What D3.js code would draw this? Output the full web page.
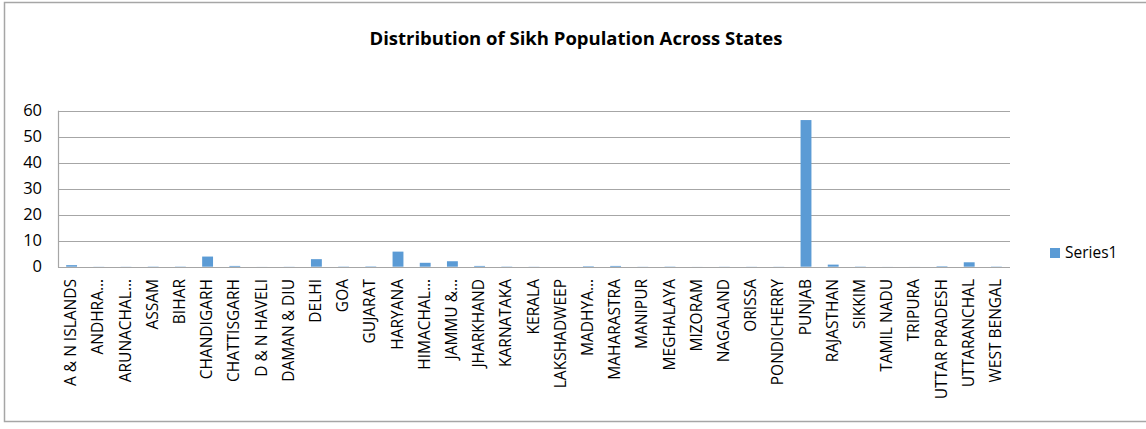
<!DOCTYPE html>
<html>
<head>
<meta charset="utf-8">
<script src="https://cdn.jsdelivr.net/npm/d3@7"></script>
<style>
  body { margin: 0; background: #fff; }
  svg { display: block; font-family: "Open Sans", "Liberation Sans", sans-serif; }
</style>
</head>
<body>
<svg id="chart"></svg>
<script>
// data
const states = ["A & N ISLANDS", "ANDHRA…", "ARUNACHAL…", "ASSAM", "BIHAR", "CHANDIGARH",
  "CHATTISGARH", "D & N HAVELI", "DAMAN & DIU", "DELHI", "GOA", "GUJARAT", "HARYANA",
  "HIMACHAL…", "JAMMU &…", "JHARKHAND", "KARNATAKA", "KERALA", "LAKSHADWEEP", "MADHYA…",
  "MAHARASTRA", "MANIPUR", "MEGHALAYA", "MIZORAM", "NAGALAND", "ORISSA", "PONDICHERRY",
  "PUNJAB", "RAJASTHAN", "SIKKIM", "TAMIL NADU", "TRIPURA", "UTTAR PRADESH", "UTTARANCHAL",
  "WEST BENGAL"];
const series1 = [0.6, 0.05, 0.05, 0.1, 0.1, 3.9,
  0.3, 0.02, 0.05, 2.9, 0.1, 0.15, 5.8,
  1.5, 2.1, 0.3, 0.1, 0.05, 0.0, 0.2,
  0.3, 0.05, 0.1, 0.02, 0.05, 0.05, 0.05,
  56.4, 0.8, 0.1, 0.02, 0.02, 0.2, 1.7,
  0.1];
const yTicks = [0, 10, 20, 30, 40, 50, 60];
const seriesName = "Series1";
const title = "Distribution of Sikh Population Across States";

const W = 1146, H = 429;
const svg = d3.select("#chart").attr("width", W).attr("height", H);

// outer chart border
svg.append("rect")
  .attr("x", 4.5).attr("y", 2.5)
  .attr("width", W + 10).attr("height", 419)
  .attr("fill", "#fff")
  .attr("stroke", "#a6a6a6")
  .attr("stroke-width", 1.5);

const plot = { left: 58, right: 1010, top: 110.7, bottom: 266.7 };

const x = d3.scaleBand()
  .domain(states)
  .range([plot.left, plot.right])
  .paddingInner(0.6)
  .paddingOuter(0.3);

const y = d3.scaleLinear()
  .domain([0, 60])
  .range([plot.bottom, plot.top]);

// gridlines
svg.append("g")
  .selectAll("line")
  .data(yTicks)
  .enter().append("line")
  .attr("x1", plot.left).attr("x2", plot.right)
  .attr("y1", d => Math.round(y(d)) + 0.5)
  .attr("y2", d => Math.round(y(d)) + 0.5)
  .attr("stroke", "#a6a6a6")
  .attr("stroke-width", 1.2);

// left axis line
svg.append("line")
  .attr("x1", plot.left + 0.5).attr("x2", plot.left + 0.5)
  .attr("y1", y(60)).attr("y2", Math.round(y(0)) + 0.5)
  .attr("stroke", "#a6a6a6")
  .attr("stroke-width", 1.2);

// y tick labels
svg.append("g")
  .selectAll("text")
  .data(yTicks)
  .enter().append("text")
  .attr("x", 42)
  .attr("y", d => y(d))
  .attr("dy", "0.35em")
  .attr("text-anchor", "end")
  .attr("font-size", 16.5)
  .attr("fill", "#000")
  .text(d => d);

// bars
svg.append("g")
  .selectAll("rect")
  .data(series1)
  .enter().append("rect")
  .attr("x", (d, i) => x(states[i]))
  .attr("width", x.bandwidth())
  .attr("y", d => y(d))
  .attr("height", d => y(0) - y(d))
  .attr("fill", "#5b9bd5");

// category labels, rotated
svg.append("g")
  .selectAll("text")
  .data(states)
  .enter().append("text")
  .attr("transform", d => `translate(${x(d) + x.bandwidth() / 2 - 1},279) rotate(-90)`)
  .attr("dy", "0.36em")
  .attr("text-anchor", "end")
  .attr("font-size", 15.5)
  .attr("fill", "#000")
  .text(d => d);

// title
svg.append("text")
  .attr("x", 576)
  .attr("y", 45)
  .attr("text-anchor", "middle")
  .attr("font-size", 18.5)
  .attr("font-weight", "bold")
  .text(title);

// legend
svg.append("rect")
  .attr("x", 1050).attr("y", 248)
  .attr("width", 10).attr("height", 10)
  .attr("fill", "#5b9bd5");
svg.append("text")
  .attr("x", 1065).attr("y", 253)
  .attr("dy", "0.35em")
  .attr("font-size", 15.5)
  .text(seriesName);
</script>
</body>
</html>
